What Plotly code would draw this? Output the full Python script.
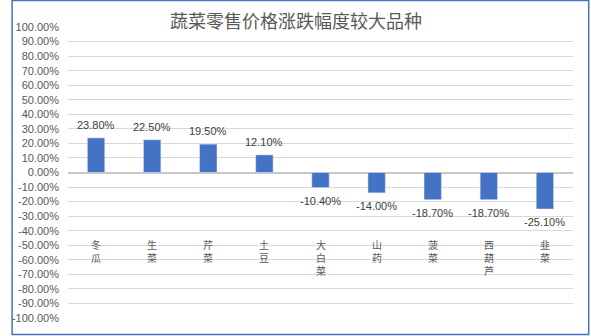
import plotly.graph_objects as go

categories = ["冬瓜", "生菜", "芹菜", "土豆", "大白菜", "山药", "菠菜", "西葫芦", "韭菜"]
values = [23.8, 22.5, 19.5, 12.1, -10.4, -14.0, -18.7, -18.7, -25.1]
tick_vals = list(range(-100, 101, 10))
tick_text = [f"{v:.2f}%" for v in tick_vals]
title_text = "蔬菜零售价格涨跌幅度较大品种"

W, H = 591, 336
L, R, T, B = 58, 18, 27, 18
pw, ph = W - L - R, H - T - B

fig = go.Figure()
fig.add_trace(go.Bar(x=categories, y=values, marker_color="#4472C4", width=0.31,
                     hoverinfo="skip"))

anns = []
for c, v in zip(categories, values):
    anns.append(dict(x=c, y=v, xref="x", yref="y", text=f"{v:.2f}%", showarrow=False,
                     yanchor="bottom" if v >= 0 else "top", yshift=5 if v >= 0 else -5,
                     font=dict(family="Liberation Sans, Arial", size=11, color="#404040")))
    anns.append(dict(x=c, y=-43, xref="x", yref="y", text="<br>".join(list(c)), showarrow=False,
                     yanchor="top", font=dict(family="Noto Sans CJK SC", size=10, color="#595959")))

fig.update_layout(
    width=W, height=H,
    margin=dict(l=L, r=R, t=T, b=B),
    paper_bgcolor="white", plot_bgcolor="white",
    showlegend=False,
    title=dict(text=title_text, x=(296) / W, xanchor="center", y=1 - 22 / H, yanchor="middle",
               font=dict(family="Noto Sans CJK SC", size=18, color="#595959")),
    xaxis=dict(showticklabels=False, showgrid=False, zeroline=False, showline=False, ticks=""),
    yaxis=dict(range=[-100, 100], tickvals=tick_vals, ticktext=tick_text, showgrid=True,
               gridcolor="#d9d9d9", gridwidth=1, zeroline=True, zerolinecolor="#c8c8c8",
               zerolinewidth=2, showline=False, ticks="", ticklabelstandoff=8,
               tickfont=dict(family="Liberation Sans, Arial", size=11, color="#595959")),
    annotations=anns,
    shapes=[dict(type="rect", xref="paper", yref="paper",
                 x0=(1 - L) / pw, x1=(589 - L) / pw,
                 y0=(H - B - 334.5) / ph, y1=(H - B - 0.5) / ph,
                 line=dict(color="#4472C4", width=1.5), fillcolor="rgba(0,0,0,0)", layer="below")],
)
fig.write_html("out.html")
